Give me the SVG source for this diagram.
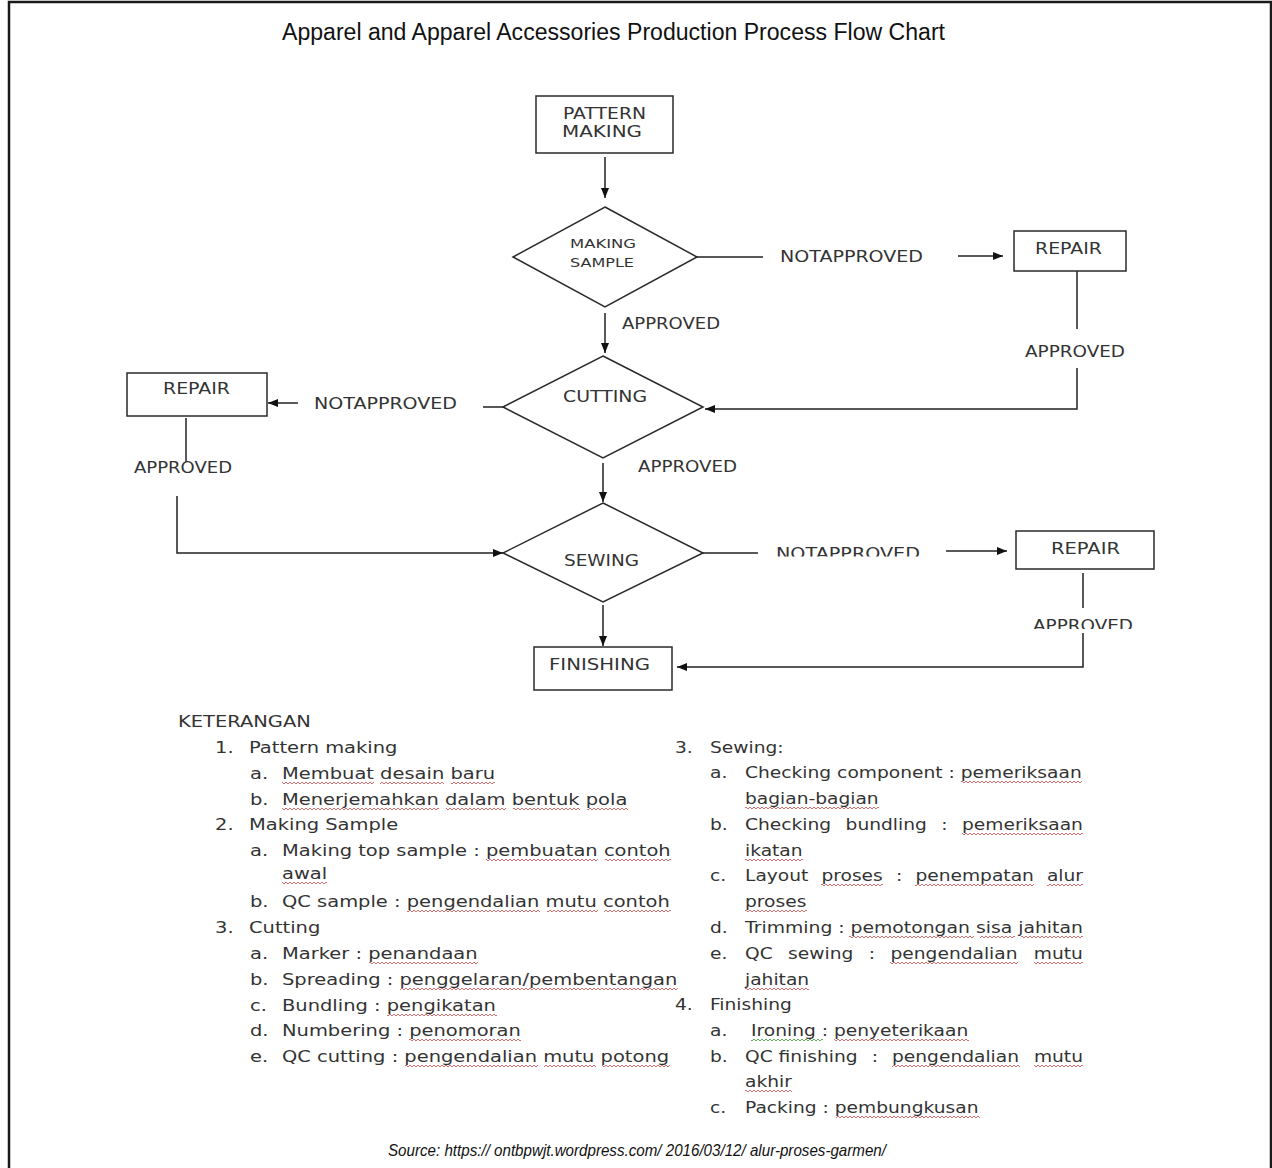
<svg xmlns="http://www.w3.org/2000/svg" width="1272" height="1168" viewBox="0 0 1272 1168">
<style>
.frame{fill:none;stroke:#1a1a1a;stroke-width:2.5}
.title{font-family:"Liberation Sans",Arial,sans-serif;font-size:23px;fill:#111}
.src{font-family:"Liberation Sans",Arial,sans-serif;font-size:17px;font-style:italic;fill:#111}
.box{fill:#fff;stroke:#2a2a2a;stroke-width:1.5}
.lbl{font-family:"DejaVu Sans",Verdana,sans-serif;font-size:16px;fill:#333}
.sm{font-family:"DejaVu Sans",Verdana,sans-serif;font-size:12.5px;fill:#333}
.con{fill:none;stroke:#222;stroke-width:1.5}
.lg{font-family:"DejaVu Sans",Verdana,sans-serif;font-size:16.5px;fill:#333}
.sq{fill:url(#wavy)}
.sqg{fill:url(#wavyg)}
</style>
<defs>
<marker id="ah" markerUnits="userSpaceOnUse" markerWidth="10" markerHeight="8" refX="10" refY="4" orient="auto">
<path d="M0,0 L10,4 L0,8 z" fill="#111"/>
</marker>
<pattern id="wavy" patternUnits="userSpaceOnUse" width="4" height="4">
<path d="M0,3 L2,1 L4,3" fill="none" stroke="#d04a4a" stroke-width="0.8"/>
</pattern>
<pattern id="wavyg" patternUnits="userSpaceOnUse" width="4" height="4">
<path d="M0,3 L2,1 L4,3" fill="none" stroke="#3a9a3a" stroke-width="0.8"/>
</pattern>
<clipPath id="clipNA"><rect x="760" y="530" width="180" height="26.5"/></clipPath>
<clipPath id="clipAP"><rect x="1020" y="600" width="130" height="29"/></clipPath>
</defs>
<rect x="0" y="0" width="1272" height="1168" fill="#fff"/>
<rect class="frame" x="9" y="2" width="1262" height="1200"/>
<text class="title" x="282" y="40" textLength="663" lengthAdjust="spacingAndGlyphs">Apparel and Apparel Accessories Production Process Flow Chart</text>

<g id="connectors">
<path class="con" d="M605 157 V198" marker-end="url(#ah)"/>
<path class="con" d="M697 257 H763"/>
<path class="con" d="M958 256 H1003" marker-end="url(#ah)"/>
<path class="con" d="M1077 271 V329"/>
<path class="con" d="M1077 368 V409 H705" marker-end="url(#ah)"/>
<path class="con" d="M605 313 V353" marker-end="url(#ah)"/>
<path class="con" d="M503 407 H483"/>
<path class="con" d="M298 403 H268" marker-end="url(#ah)"/>
<path class="con" d="M186 418 V462"/>
<path class="con" d="M177 496 V553 H503" marker-end="url(#ah)"/>
<path class="con" d="M603 463 V502" marker-end="url(#ah)"/>
<path class="con" d="M703 553 H758"/>
<path class="con" d="M946 551 H1007" marker-end="url(#ah)"/>
<path class="con" d="M1083 573 V608"/>
<path class="con" d="M1083 633 V667 H677" marker-end="url(#ah)"/>
<path class="con" d="M603 605 V646" marker-end="url(#ah)"/>
<text class="lbl" x="780" y="262" textLength="143" lengthAdjust="spacingAndGlyphs">NOTAPPROVED</text>
<text class="lbl" x="1025" y="357" textLength="100" lengthAdjust="spacingAndGlyphs">APPROVED</text>
<text class="lbl" x="622" y="329" textLength="98" lengthAdjust="spacingAndGlyphs">APPROVED</text>
<text class="lbl" x="314" y="409" textLength="143" lengthAdjust="spacingAndGlyphs">NOTAPPROVED</text>
<text class="lbl" x="134" y="473" textLength="98" lengthAdjust="spacingAndGlyphs">APPROVED</text>
<text class="lbl" x="638" y="472" textLength="99" lengthAdjust="spacingAndGlyphs">APPROVED</text>
<text class="lbl" x="776" y="559" textLength="144" lengthAdjust="spacingAndGlyphs" clip-path="url(#clipNA)">NOTAPPROVED</text>
<text class="lbl" x="1033" y="631" textLength="100" lengthAdjust="spacingAndGlyphs" clip-path="url(#clipAP)">APPROVED</text>
</g>

<g id="pattern-making">
<rect class="box" x="536" y="96" width="137" height="57"/>
<text class="lbl" x="563" y="119" textLength="83" lengthAdjust="spacingAndGlyphs">PATTERN</text>
<text class="lbl" x="562" y="137" textLength="80" lengthAdjust="spacingAndGlyphs">MAKING</text>
</g>
<g id="making-sample">
<path class="box" d="M605 207 L697 257 L605 307 L513 257 Z"/>
<text class="sm" x="570" y="248" textLength="66" lengthAdjust="spacingAndGlyphs">MAKING</text>
<text class="sm" x="570" y="267" textLength="64" lengthAdjust="spacingAndGlyphs">SAMPLE</text>
</g>
<g id="repair-1">
<rect class="box" x="1014" y="231" width="112" height="40"/>
<text class="lbl" x="1035" y="254" textLength="67" lengthAdjust="spacingAndGlyphs">REPAIR</text>
</g>
<g id="cutting">
<path class="box" d="M603 356 L703 407 L603 458 L503 407 Z"/>
<text class="lbl" x="563" y="402" textLength="84" lengthAdjust="spacingAndGlyphs">CUTTING</text>
</g>
<g id="repair-2">
<rect class="box" x="127" y="373" width="140" height="43"/>
<text class="lbl" x="163" y="394" textLength="67" lengthAdjust="spacingAndGlyphs">REPAIR</text>
</g>
<g id="sewing">
<path class="box" d="M603 503 L703 553 L603 602 L503 553 Z"/>
<text class="lbl" x="564" y="566" textLength="75" lengthAdjust="spacingAndGlyphs">SEWING</text>
</g>
<g id="repair-3">
<rect class="box" x="1016" y="531" width="138" height="38"/>
<text class="lbl" x="1051" y="554" textLength="69" lengthAdjust="spacingAndGlyphs">REPAIR</text>
</g>
<g id="finishing">
<rect class="box" x="534" y="647" width="138" height="43"/>
<text class="lbl" x="549" y="670" textLength="101" lengthAdjust="spacingAndGlyphs">FINISHING</text>
</g>

<g id="legend-left">
<text class="lg" transform="matrix(1.18 0 0 1 178 727)">KETERANGAN</text>
<text class="lg" transform="matrix(1.18 0 0 1 215 753)">1.</text>
<text class="lg" transform="matrix(1.18 0 0 1 249 753)">Pattern making</text>
<text class="lg" transform="matrix(1.18 0 0 1 250 779)">a.</text>
<text class="lg" transform="matrix(1.18 0 0 1 282 779)">Membuat desain baru</text>
<text class="lg" transform="matrix(1.18 0 0 1 250 805)">b.</text>
<text class="lg" transform="matrix(1.18 0 0 1 282 805)">Menerjemahkan dalam bentuk pola</text>
<text class="lg" transform="matrix(1.18 0 0 1 215 830)">2.</text>
<text class="lg" transform="matrix(1.18 0 0 1 249 830)">Making Sample</text>
<text class="lg" transform="matrix(1.18 0 0 1 250 856)">a.</text>
<text class="lg" transform="matrix(1.18 0 0 1 282 856)">Making top sample : pembuatan contoh</text>
<text class="lg" transform="matrix(1.18 0 0 1 282 879)">awal</text>
<text class="lg" transform="matrix(1.18 0 0 1 250 907)">b.</text>
<text class="lg" transform="matrix(1.18 0 0 1 282 907)">QC sample : pengendalian mutu contoh</text>
<text class="lg" transform="matrix(1.18 0 0 1 215 933)">3.</text>
<text class="lg" transform="matrix(1.18 0 0 1 249 933)">Cutting</text>
<text class="lg" transform="matrix(1.18 0 0 1 250 959)">a.</text>
<text class="lg" transform="matrix(1.18 0 0 1 282 959)">Marker : penandaan</text>
<text class="lg" transform="matrix(1.18 0 0 1 250 985)">b.</text>
<text class="lg" transform="matrix(1.18 0 0 1 282 985)">Spreading : penggelaran/pembentangan</text>
<text class="lg" transform="matrix(1.18 0 0 1 250 1011)">c.</text>
<text class="lg" transform="matrix(1.18 0 0 1 282 1011)">Bundling : pengikatan</text>
<text class="lg" transform="matrix(1.18 0 0 1 250 1036)">d.</text>
<text class="lg" transform="matrix(1.18 0 0 1 282 1036)">Numbering : penomoran</text>
<text class="lg" transform="matrix(1.18 0 0 1 250 1062)">e.</text>
<text class="lg" transform="matrix(1.18 0 0 1 282 1062)">QC cutting : pengendalian mutu potong</text>
<rect class="sq" x="282" width="92" height="4" transform="translate(0,781)"/>
<rect class="sq" x="380" width="64" height="4" transform="translate(0,781)"/>
<rect class="sq" x="451" width="44" height="4" transform="translate(0,781)"/>
<rect class="sq" x="282" width="157" height="4" transform="translate(0,807)"/>
<rect class="sq" x="446" width="60" height="4" transform="translate(0,807)"/>
<rect class="sq" x="513" width="67" height="4" transform="translate(0,807)"/>
<rect class="sq" x="587" width="41" height="4" transform="translate(0,807)"/>
<rect class="sq" x="486" width="112" height="4" transform="translate(0,858)"/>
<rect class="sq" x="605" width="66" height="4" transform="translate(0,858)"/>
<rect class="sq" x="282" width="45" height="4" transform="translate(0,881)"/>
<rect class="sq" x="407" width="133" height="4" transform="translate(0,909)"/>
<rect class="sq" x="547" width="51" height="4" transform="translate(0,909)"/>
<rect class="sq" x="604" width="67" height="4" transform="translate(0,909)"/>
<rect class="sq" x="369" width="109" height="4" transform="translate(0,961)"/>
<rect class="sq" x="400" width="278" height="4" transform="translate(0,987)"/>
<rect class="sq" x="387" width="110" height="4" transform="translate(0,1013)"/>
<rect class="sq" x="409" width="112" height="4" transform="translate(0,1038)"/>
<rect class="sq" x="405" width="133" height="4" transform="translate(0,1064)"/>
<rect class="sq" x="544" width="52" height="4" transform="translate(0,1064)"/>
<rect class="sq" x="602" width="68" height="4" transform="translate(0,1064)"/>
</g>

<g id="legend-right">
<text class="lg" transform="matrix(1.13 0 0 1 675 753)">3.</text>
<text class="lg" transform="matrix(1.13 0 0 1 710 753)">Sewing:</text>
<text class="lg" transform="matrix(1.13 0 0 1 710 778)">a.</text>
<text class="lg" transform="matrix(1.13 0 0 1 745 778)" textLength="298" lengthAdjust="spacingAndGlyphs">Checking component : pemeriksaan</text>
<text class="lg" transform="matrix(1.13 0 0 1 745 804)">bagian-bagian</text>
<text class="lg" transform="matrix(1.13 0 0 1 710 830)">b.</text>
<text class="lg" transform="matrix(1.13 0 0 1 745 830)">Checking</text>
<text class="lg" transform="matrix(1.13 0 0 1 845.6 830)">bundling</text>
<text class="lg" transform="matrix(1.13 0 0 1 941.3 830)">:</text>
<text class="lg" transform="matrix(1.13 0 0 1 962 830)">pemeriksaan</text>
<text class="lg" transform="matrix(1.13 0 0 1 745 856)">ikatan</text>
<text class="lg" transform="matrix(1.13 0 0 1 710 881)">c.</text>
<text class="lg" transform="matrix(1.13 0 0 1 745 881)">Layout</text>
<text class="lg" transform="matrix(1.13 0 0 1 821.4 881)">proses</text>
<text class="lg" transform="matrix(1.13 0 0 1 896.1 881)">:</text>
<text class="lg" transform="matrix(1.13 0 0 1 915.4 881)">penempatan</text>
<text class="lg" transform="matrix(1.13 0 0 1 1046.9 881)">alur</text>
<text class="lg" transform="matrix(1.13 0 0 1 745 907)">proses</text>
<text class="lg" transform="matrix(1.13 0 0 1 710 933)">d.</text>
<text class="lg" transform="matrix(1.13 0 0 1 745 933)" textLength="299" lengthAdjust="spacingAndGlyphs">Trimming : pemotongan sisa jahitan</text>
<text class="lg" transform="matrix(1.13 0 0 1 710 959)">e.</text>
<text class="lg" transform="matrix(1.13 0 0 1 745 959)">QC</text>
<text class="lg" transform="matrix(1.13 0 0 1 788.1 959)">sewing</text>
<text class="lg" transform="matrix(1.13 0 0 1 868.8 959)">:</text>
<text class="lg" transform="matrix(1.13 0 0 1 890.5 959)">pengendalian</text>
<text class="lg" transform="matrix(1.13 0 0 1 1033.8 959)">mutu</text>
<text class="lg" transform="matrix(1.13 0 0 1 745 985)">jahitan</text>
<text class="lg" transform="matrix(1.13 0 0 1 675 1010)">4.</text>
<text class="lg" transform="matrix(1.13 0 0 1 710 1010)">Finishing</text>
<text class="lg" transform="matrix(1.13 0 0 1 710 1036)">a.</text>
<text class="lg" transform="matrix(1.13 0 0 1 751 1036)">Ironing : penyeterikaan</text>
<text class="lg" transform="matrix(1.13 0 0 1 710 1062)">b.</text>
<text class="lg" transform="matrix(1.13 0 0 1 745 1062)">QC finishing</text>
<text class="lg" transform="matrix(1.13 0 0 1 871.7 1062)">:</text>
<text class="lg" transform="matrix(1.13 0 0 1 892 1062)">pengendalian</text>
<text class="lg" transform="matrix(1.13 0 0 1 1033.9 1062)">mutu</text>
<text class="lg" transform="matrix(1.13 0 0 1 745 1087)">akhir</text>
<text class="lg" transform="matrix(1.13 0 0 1 710 1113)">c.</text>
<text class="lg" transform="matrix(1.13 0 0 1 745 1113)">Packing : pembungkusan</text>
<rect class="sq" x="961" width="121" height="4" transform="translate(0,780)"/>
<rect class="sq" x="745" width="134" height="4" transform="translate(0,806)"/>
<rect class="sq" x="962" width="121" height="4" transform="translate(0,832)"/>
<rect class="sq" x="745" width="58" height="4" transform="translate(0,858)"/>
<rect class="sq" x="821" width="62" height="4" transform="translate(0,883)"/>
<rect class="sq" x="915" width="119" height="4" transform="translate(0,883)"/>
<rect class="sq" x="1047" width="36" height="4" transform="translate(0,883)"/>
<rect class="sq" x="745" width="62" height="4" transform="translate(0,909)"/>
<rect class="sq" x="849" width="125" height="4" transform="translate(0,935)"/>
<rect class="sq" x="980" width="35" height="4" transform="translate(0,935)"/>
<rect class="sq" x="1021" width="62" height="4" transform="translate(0,935)"/>
<rect class="sq" x="890" width="128" height="4" transform="translate(0,961)"/>
<rect class="sq" x="1034" width="49" height="4" transform="translate(0,961)"/>
<rect class="sq" x="745" width="64" height="4" transform="translate(0,987)"/>
<rect class="sqg" x="751" width="72" height="4" transform="translate(0,1038)"/>
<rect class="sq" x="834" width="135" height="4" transform="translate(0,1038)"/>
<rect class="sq" x="892" width="128" height="4" transform="translate(0,1064)"/>
<rect class="sq" x="1034" width="49" height="4" transform="translate(0,1064)"/>
<rect class="sq" x="745" width="47" height="4" transform="translate(0,1089)"/>
<rect class="sq" x="836" width="144" height="4" transform="translate(0,1115)"/>
</g>

<text class="src" x="388" y="1156" textLength="498" lengthAdjust="spacingAndGlyphs">Source: https:// ontbpwjt.wordpress.com/ 2016/03/12/ alur-proses-garmen/</text>
</svg>
